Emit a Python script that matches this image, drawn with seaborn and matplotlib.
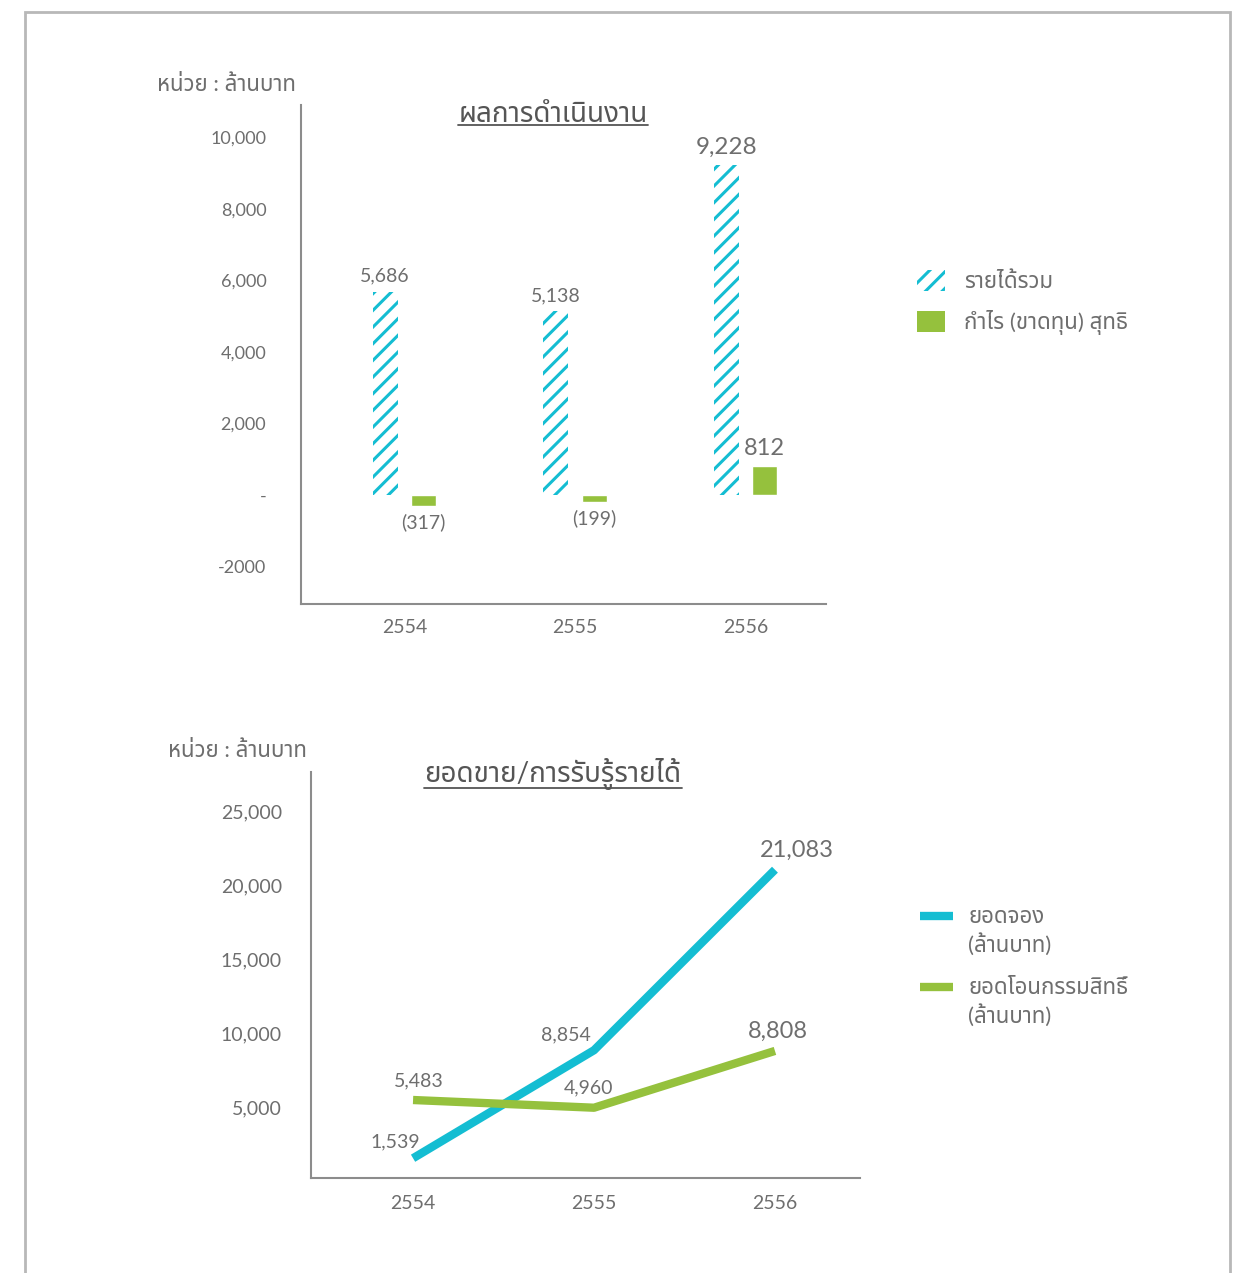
import matplotlib
matplotlib.use('Agg')
import matplotlib.pyplot as plt
import seaborn as sns
import pandas as pd
from matplotlib import font_manager
from matplotlib.ft2font import FT2Font
from matplotlib.patches import Patch, Rectangle
from matplotlib.lines import Line2D

# data
years = [2554, 2555, 2556]
revenue = [5686, 5138, 9228]
net_profit = [-317, -199, 812]
revenue_labels = ['5,686', '5,138', '9,228']
profit_labels = ['(317)', '(199)', '812']

bookings = [1539, 8854, 21083]
transfers = [5483, 4960, 8808]
booking_labels = ['1,539', '8,854', '21,083']
transfer_labels = ['5,483', '4,960', '8,808']

bar_ticks = [-2000, 0, 2000, 4000, 6000, 8000, 10000]
bar_tick_labels = ['-2000', '-', '2,000', '4,000', '6,000', '8,000', '10,000']
line_ticks = [5000, 10000, 15000, 20000, 25000]
line_tick_labels = ['5,000', '10,000', '15,000', '20,000', '25,000']

CYAN = '#14bdd2'
GREEN = '#95c13d'
GREY = '#6e6e6e'
AXIS = '#8c8c8c'


# find an installed family that can draw Thai
def thai_family():
    preferred = ['Noto Sans Thai', 'Noto Sans Thai Looped', 'Loma', 'Garuda', 'Norasi',
                 'Tlwg Typist', 'Kinnari', 'Sawasdee', 'Umpush']
    found = []
    for f in font_manager.fontManager.ttflist:
        try:
            if 0x0E01 in FT2Font(f.fname).get_charmap():
                found.append(f.name)
        except Exception:
            pass
    for name in preferred:
        if name in found:
            return name
    return found[0] if found else 'DejaVu Sans'


THAI = thai_family()

sns.set_theme(style='white')
plt.rcParams['font.family'] = ['Lato', THAI, 'DejaVu Sans']
plt.rcParams['hatch.linewidth'] = 2.2

fig = plt.figure(figsize=(12.49, 12.73), dpi=100)
W, H = 1249, 1273

# page frame
fig.add_artist(Rectangle((25 / W, -0.05), (1230 - 25) / W, 1 - 12 / H + 0.05,
                         transform=fig.transFigure, fill=False, ec='#b8b8b8', lw=2))

# ---------- top: bar chart ----------
ax1 = fig.add_axes([301 / W, 1 - 604 / H, (826 - 301) / W, (604 - 105) / H])
df = pd.DataFrame({
    'year': [str(y) for y in years] * 2,
    'value': revenue + net_profit,
    'kind': ['รายได้รวม'] * 3 + ['กำไร (ขาดทุน) สุทธิ'] * 3,
})
sns.barplot(data=df, x='year', y='value', hue='kind', palette=[CYAN, GREEN],
            width=0.452, gap=0.36, saturation=1, legend=False, ax=ax1)

for bar in ax1.containers[0]:
    bar.set_facecolor('white')
    bar.set_edgecolor(CYAN)
    bar.set_hatch('//')
    bar.set_linewidth(0)

for bar, lab in zip(ax1.containers[0], revenue_labels):
    size = 17.5 if lab == '9,228' else 14
    ax1.annotate(lab, (bar.get_x() + bar.get_width() / 2, bar.get_height()),
                 xytext=(0, 5), textcoords='offset points', ha='center', va='bottom',
                 fontsize=size, color=GREY)
for bar, val, lab in zip(ax1.containers[1], net_profit, profit_labels):
    x = bar.get_x() + bar.get_width() / 2
    if val < 0:
        ax1.annotate(lab, (x, val), xytext=(0, -5), textcoords='offset points',
                     ha='center', va='top', fontsize=14, color=GREY)
    else:
        ax1.annotate(lab, (x, val), xytext=(0, 5), textcoords='offset points',
                     ha='center', va='bottom', fontsize=17, color=GREY)

ax1.set_xlim(-0.607, 2.472)
ax1.set_ylim(-3050, 10900)
ax1.set_yticks(bar_ticks)
ax1.set_yticklabels(bar_tick_labels)
ax1.set_xlabel('')
ax1.set_ylabel('')
ax1.tick_params(axis='y', length=0, labelsize=13, labelcolor=GREY, pad=25)
ax1.tick_params(axis='x', length=0, labelsize=14, labelcolor=GREY, pad=11)

ax1.legend(handles=[Patch(fc='white', ec=CYAN, hatch='//', lw=0, label='รายได้รวม'),
                    Patch(fc=GREEN, ec=GREEN, lw=0, label='กำไร (ขาดทุน) สุทธิ')],
           loc='upper left', bbox_to_anchor=(897 / W, 1 - 250 / H),
           bbox_transform=fig.transFigure, frameon=False, fontsize=16,
           handlelength=1.25, handleheight=1.1, handletextpad=0.85,
           labelspacing=0.8, labelcolor=GREY)

# ---------- bottom: line chart ----------
ax2 = fig.add_axes([311 / W, 1 - 1178 / H, (860 - 311) / W, (1178 - 772) / H])
df2 = pd.DataFrame({
    'year': years * 2,
    'value': bookings + transfers,
    'series': ['ยอดจอง'] * 3 + ['ยอดโอนกรรมสิทธิ์'] * 3,
})
sns.lineplot(data=df2, x='year', y='value', hue='series', palette=[CYAN, GREEN],
             linewidth=6, legend=False, solid_capstyle='butt', ax=ax2)

booking_offsets = [(-13, 12), (-20, 11), (16, 14)]
transfer_offsets = [(4, 14), (-4, 14), (2, 14)]
for x, y, lab, off in zip(years, bookings, booking_labels, booking_offsets):
    size = 17 if lab == '21,083' else 14
    ax2.annotate(lab, (x, y), xytext=off, textcoords='offset points',
                 ha='center', va='center', fontsize=size, color=GREY)
for x, y, lab, off in zip(years, transfers, transfer_labels, transfer_offsets):
    size = 17 if lab == '8,808' else 14
    ax2.annotate(lab, (x, y), xytext=off, textcoords='offset points',
                 ha='center', va='center', fontsize=size, color=GREY)

ax2.set_xlim(2553.436, 2556.47)
ax2.set_ylim(200, 27700)
ax2.set_xticks(years)
ax2.set_xticklabels([str(y) for y in years])
ax2.set_yticks(line_ticks)
ax2.set_yticklabels(line_tick_labels)
ax2.set_xlabel('')
ax2.set_ylabel('')
ax2.tick_params(axis='y', length=0, labelsize=14, labelcolor=GREY, pad=21)
ax2.tick_params(axis='x', length=0, labelsize=14, labelcolor=GREY, pad=12)

# legend for the line chart (handle sits beside first text line)
for ypix, col, txt in [(916, CYAN, 'ยอดจอง\n(ล้านบาท)'),
                       (987, GREEN, 'ยอดโอนกรรมสิทธิ์\n(ล้านบาท)')]:
    fig.add_artist(Line2D([920 / W, 953 / W], [1 - ypix / H, 1 - ypix / H],
                          transform=fig.transFigure, color=col, lw=6, solid_capstyle='butt'))
    fig.text(968 / W, 1 - (ypix - 9) / H, txt, ha='left', va='top', fontsize=16,
             color=GREY, linespacing=1.3)

for ax in (ax1, ax2):
    sns.despine(ax=ax)
    for side in ('left', 'bottom'):
        ax.spines[side].set_color(AXIS)
        ax.spines[side].set_linewidth(1.5)

# titles and unit labels
t1 = fig.text(553 / W, 1 - 114 / H, 'ผลการดำเนินงาน', ha='center', va='center',
              fontsize=20, color='#555555')
t2 = fig.text(553 / W, 1 - 774 / H, 'ยอดขาย/การรับรู้รายได้', ha='center', va='center',
              fontsize=20, color='#555555')
fig.text(157 / W, 1 - 85 / H, 'หน่วย : ล้านบาท', ha='left', va='center', fontsize=16, color=GREY)
fig.text(168 / W, 1 - 751 / H, 'หน่วย : ล้านบาท', ha='left', va='center', fontsize=16, color=GREY)

# underline the titles
fig.canvas.draw()
for t in (t1, t2):
    bb = t.get_window_extent()
    y = (bb.y0 + 2) / fig.bbox.height
    fig.add_artist(Line2D([bb.x0 / fig.bbox.width, bb.x1 / fig.bbox.width], [y, y],
                          transform=fig.transFigure, color='#555555', lw=1.3))

fig.savefig('out.png', dpi=100)
